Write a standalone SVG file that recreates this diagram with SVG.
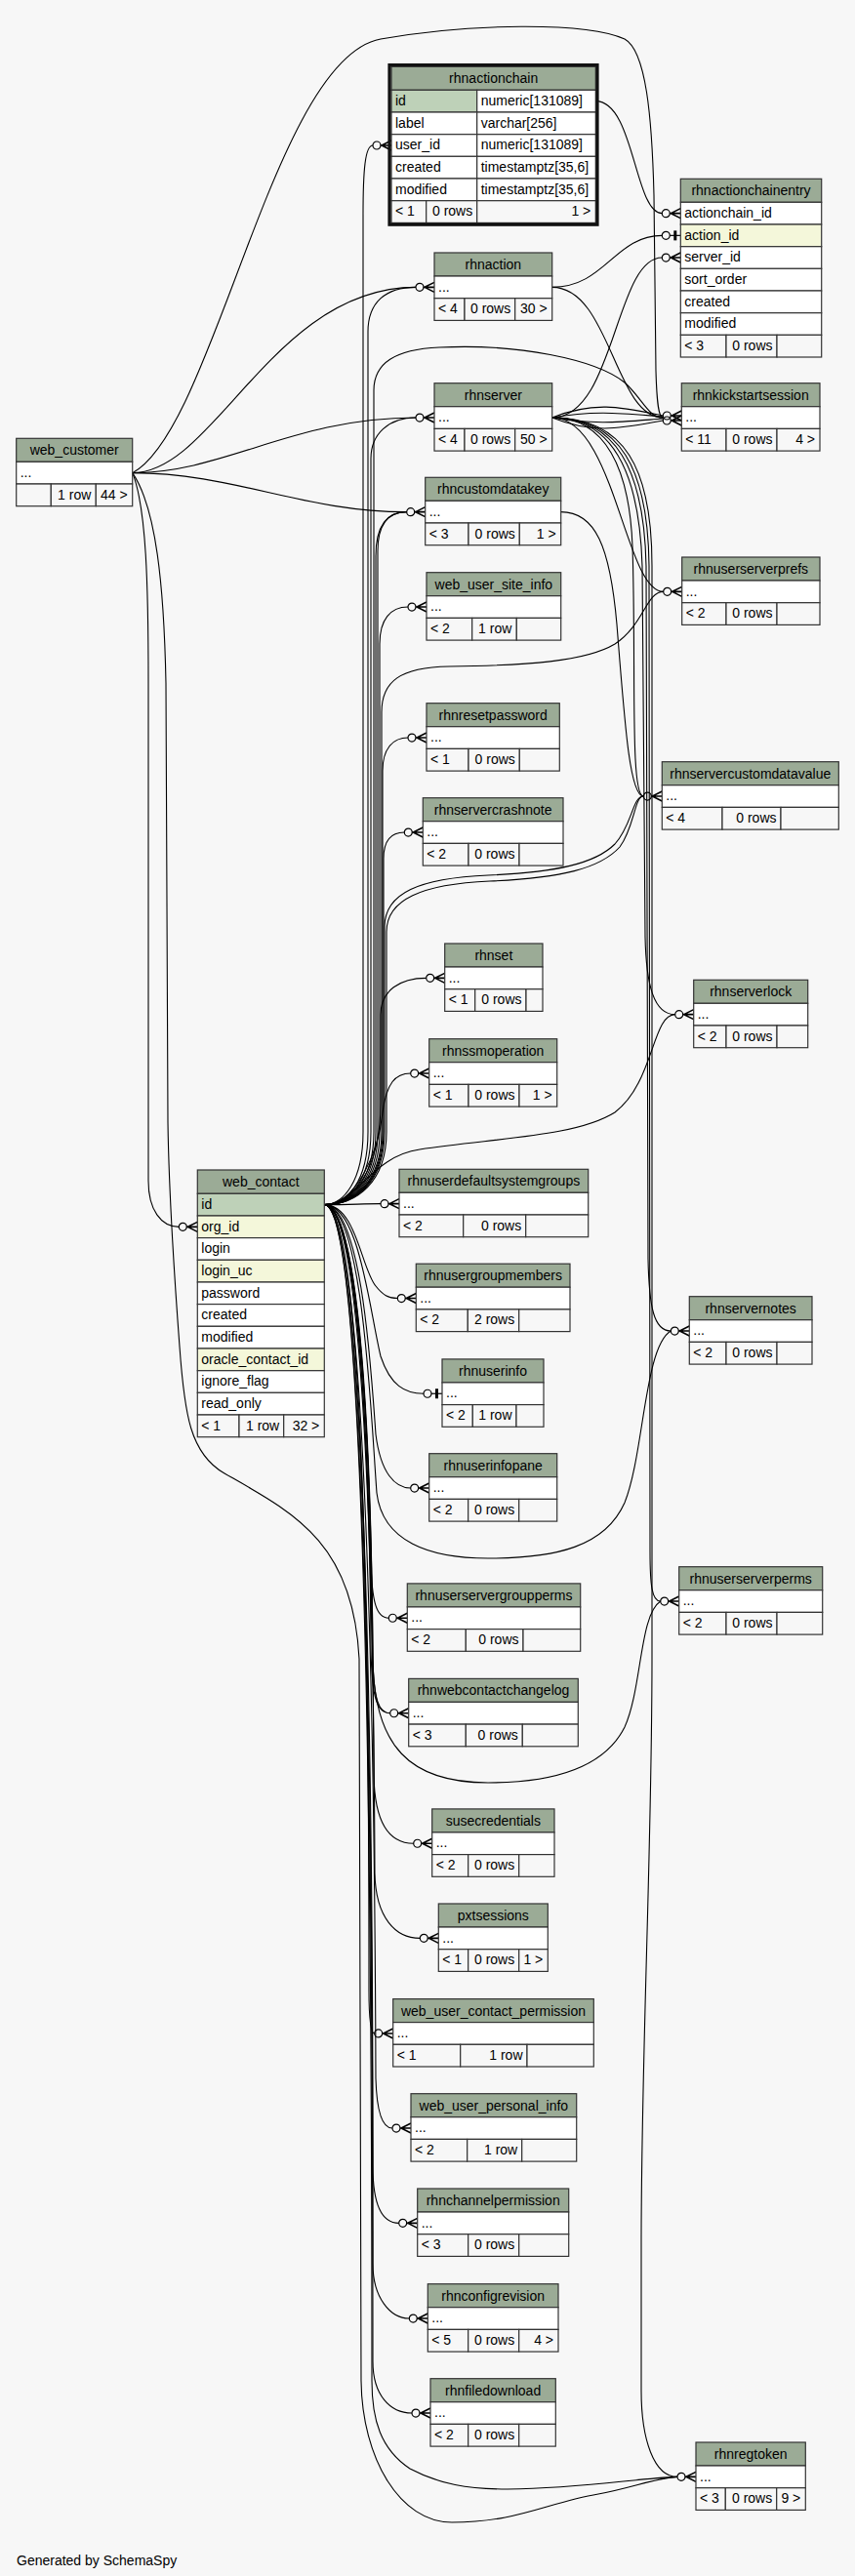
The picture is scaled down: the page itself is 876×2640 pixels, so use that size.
<svg xmlns="http://www.w3.org/2000/svg" xmlns:xlink="http://www.w3.org/1999/xlink" width="876" height="2640" viewBox="0 0 876 2640">
<style>
.h{fill:#9bab96;stroke:#333;stroke-width:1.2}
.b{fill:#fff;stroke:#333;stroke-width:1.2}
.f{fill:#f7f7f7;stroke:#333;stroke-width:1.2}
.p{fill:#bed1b8;stroke:#333;stroke-width:1.2}
.i{fill:#f4f7da;stroke:#333;stroke-width:1.2}
text{font-family:"Liberation Sans",Arial,Helvetica,sans-serif;font-size:14px;fill:#000}
.c{text-anchor:middle}
.r{text-anchor:end}
.e{fill:none;stroke:#000;stroke-width:1.1}
</style>
<defs>
<g id="cw"><path d="M-11,0H0M0,-5L-10,0L0,5" fill="none" stroke="#000" stroke-width="1.6"/><circle cx="-15" cy="0" r="4" fill="none" stroke="#000" stroke-width="1.2"/></g>
<g id="te"><path d="M-11,0H0" fill="none" stroke="#000" stroke-width="1.2"/><rect x="-7" y="-5" width="3" height="10" fill="#000"/><circle cx="-15" cy="0" r="4" fill="none" stroke="#000" stroke-width="1.2"/></g>
</defs>
<rect x="0" y="0" width="876" height="2640" fill="#f7f7f7"/>

<g id="connectors">
<!-- web_contact -> children -->
<path class="e" d="M332.3,1234.65 C352,1234.65 372,1210 372,1160 L372,220 C372,175 374,149 382,149"/>
<path class="e" d="M332.3,1234.65 C355,1234.65 377,1212 377,1160 L377,340 C377,310 395,294.35 426,294.35"/>
<path class="e" d="M332.3,1234.65 C357,1234.65 383,1212 383,1160 L383,400 C383,372 405,358 450,356 C530,352 610,368 640,392 C658,408 664,428 679.3,428.05"/>
<path class="e" d="M332.3,1234.65 C356,1234.65 380,1212 380,1160 L380,470 C380,445 398,428.05 426,428.05"/>
<path class="e" d="M332.3,1234.65 C358,1234.65 385,1212 385,1160 L385,570 C385,540 395,524.65 416.7,524.65"/>
<path class="e" d="M332.3,1234.65 C359,1234.65 387,1212 387,1160 L387,565 C387,538 397,524.65 416.7,524.65"/>
<path class="e" d="M332.3,1234.65 C360,1234.65 389,1212 389,1160 L389,660 C389,635 400,622.05 418,622.05"/>
<path class="e" d="M332.3,1234.65 C361,1234.65 391,1212 391,1160 L391,730 C391,698 410,684 460,683 C540,682 600,678 630,660 C660,640 662,606.35 679.7,606.35"/>
<path class="e" d="M332.3,1234.65 C362,1234.65 392,1212 392,1160 L392,790 C392,768 402,756.05 418,756.05"/>
<path class="e" d="M332.3,1234.65 C363,1234.65 393,1212 393,1160 L393,880 C393,862 400,853.05 414.3,853.05"/>
<path class="e" d="M332.3,1234.65 C364,1234.65 394,1212 394,1160 L394,950 C394,915 430,900 500,897 C570,894 610,885 630,865 C648,845 648,816.05 659.3,816.05"/>
<path class="e" d="M332.3,1234.65 C365,1234.65 396,1212 396,1160 L396,955 C396,922 432,906 502,903 C575,900 615,890 635,868 C650,848 650,816.05 659.3,816.05"/>
<path class="e" d="M332.3,1234.65 C360,1234.65 390,1200 390,1130 L390,1040 C390,1015 410,1002.35 436.7,1002.35"/>
<path class="e" d="M332.3,1234.65 C365,1234.65 388,1180 392,1140 C396,1110 405,1100.05 420.7,1100.05"/>
<path class="e" d="M332.3,1234.65 C365,1234.65 380,1185 430,1178 C510,1166 590,1165 630,1140 C670,1110 668,1039.65 691.7,1039.65"/>
<path class="e" d="M332.3,1234.65 C360,1234.65 370,1233.65 390,1233.65"/>
<path class="e" d="M332.3,1234.65 C365,1234.65 370,1300 385,1318 C392,1327 398,1330.55 407.3,1330.55"/>
<path class="e" d="M332.3,1234.65 C368,1234.65 378,1340 390,1390 C400,1420 415,1428.25 434,1428.25"/>
<path class="e" d="M332.3,1234.65 C370,1234.65 380,1400 385,1470 C390,1510 405,1525.05 420.7,1525.05"/>
<path class="e" d="M332.3,1234.65 C372,1234.65 380,1450 386,1530 C392,1580 440,1597 500,1597 C570,1597 620,1585 640,1540 C660,1490 660,1380 687.3,1364.05"/>
<path class="e" d="M332.3,1234.65 C370,1234.65 378,1500 380,1600 C381,1640 385,1658.25 398.3,1658.25"/>
<path class="e" d="M332.3,1234.65 C372,1234.65 379,1550 380,1690 C381,1740 386,1755.75 399.7,1755.75"/>
<path class="e" d="M332.3,1234.65 C373,1234.65 381,1560 382,1700 C383,1742 388,1755.75 399.7,1755.75"/>
<path class="e" d="M332.3,1234.65 C374,1234.65 381,1550 382,1700 C383,1790 420,1827 500,1827 C570,1827 620,1810 640,1770 C658,1730 655,1655 676.7,1641.05"/>
<path class="e" d="M332.3,1234.65 C374,1234.65 382,1600 383,1820 C384,1870 400,1889.25 423.7,1889.25"/>
<path class="e" d="M332.3,1234.65 C375,1234.65 383,1650 384,1920 C385,1965 405,1986.35 430.3,1986.35"/>
<path class="e" d="M332.3,1234.65 C374,1234.65 378,1700 378,2040 C378,2070 380,2083.95 383.7,2083.95"/>
<path class="e" d="M332.3,1234.65 C376,1234.65 384,1800 385,2130 C386,2165 392,2181.05 402,2181.05"/>
<path class="e" d="M332.3,1234.65 C376,1234.65 382,1850 382,2220 C382,2260 392,2278.35 408.7,2278.35"/>
<path class="e" d="M332.3,1234.65 C377,1234.65 382,1900 382,2320 C382,2355 400,2376.05 419.3,2376.05"/>
<path class="e" d="M332.3,1234.65 C377,1234.65 382,1950 382,2420 C382,2455 400,2473.05 422,2473.05"/>
<path class="e" d="M332.3,1234.65 C378,1234.65 381,2000 381,2440 C381,2480 390,2510 420,2530 C450,2546 480,2551 520,2551 C600,2550 650,2540 694,2538.35"/>
<!-- web_customer -> children -->
<path class="e" d="M135.7,484.65 C220,484.65 280,294.35 426,294.35"/>
<path class="e" d="M135.7,484.65 C230,484.65 300,428.05 426,428.05"/>
<path class="e" d="M135.7,484.65 C240,484.65 310,524.65 416.7,524.65"/>
<path class="e" d="M135.7,484.65 C220,440 280,60 390,40 C480,24 600,22 640,40 C662,52 668,120 670,200 L672,380 C673,415 675,428.05 679.3,428.05"/>
<path class="e" d="M135.7,484.65 C150,520 152,600 152,700 L152,1210 C152,1240 165,1257.35 183.3,1257.35"/>
<path class="e" d="M135.7,484.65 C160,520 168,600 170,700 L172,1150 C173,1220 178,1300 184,1380 C189,1450 195,1490 230,1510 C300,1550 362,1580 368,1700 L370,2440 C371,2520 410,2585 463,2585 C530,2585 560,2565 613,2556 C650,2549 670,2540 694,2538.35"/>
<!-- rhnactionchain / rhnaction / rhnserver / rhncustomdatakey -> children -->
<path class="e" d="M610.3,103.65 C650,103.65 650,218.65 678.3,218.65"/>
<path class="e" d="M565.7,294.35 C620,294.35 630,241.35 678.3,241.35"/>
<path class="e" d="M565.7,294.35 C625,294.35 630,428.05 679.3,428.05"/>
<path class="e" d="M565.7,428.05 C630,428.05 630,264.05 678.3,264.05"/>
<path class="e" d="M565.7,428.05 C610,410 640,418 679.3,426"/>
<path class="e" d="M565.7,428.05 C610,420 640,424 679.3,427"/>
<path class="e" d="M565.7,428.05 C610,436 640,432 679.3,429"/>
<path class="e" d="M565.7,428.05 C610,446 640,438 679.3,431"/>
<path class="e" d="M565.7,428.05 C630,428.05 640,606.35 679.7,606.35"/>
<path class="e" d="M565.7,428.05 C620,428.05 645,480 648,560 C652,680 645,816.05 659.3,816.05"/>
<path class="e" d="M565.7,428.05 C625,428.05 655,480 658,580 L661,960 C662,1010 670,1039.65 691.7,1039.65"/>
<path class="e" d="M565.7,428.05 C630,428.05 660,480 662,580 L664,1290 C665,1340 670,1364.05 687.3,1364.05"/>
<path class="e" d="M565.7,428.05 C635,428.05 664,480 665,580 L666,1590 C666,1625 668,1641.05 676.7,1641.05"/>
<path class="e" d="M565.7,428.05 C640,428.05 668,480 668,580 L668,1700 C668,1900 657,2100 657,2300 L657,2450 C657,2500 670,2538.35 694,2538.35"/>
<path class="e" d="M574.7,524.65 C610,524.65 625,560 632,640 C640,740 645,816.05 659.3,816.05"/>
<!-- end markers -->
<use xlink:href="#cw" href="#cw" transform="translate(401,149)"/>
<use xlink:href="#cw" href="#cw" transform="translate(697.3,218.65)"/>
<use xlink:href="#te" href="#te" transform="translate(697.3,241.35)"/>
<use xlink:href="#cw" href="#cw" transform="translate(697.3,264.05)"/>
<use xlink:href="#cw" href="#cw" transform="translate(698.3,426)"/>
<use xlink:href="#cw" href="#cw" transform="translate(698.3,431)"/>
<use xlink:href="#cw" href="#cw" transform="translate(445,294.35)"/>
<use xlink:href="#cw" href="#cw" transform="translate(445,428.05)"/>
<use xlink:href="#cw" href="#cw" transform="translate(435.7,524.65)"/>
<use xlink:href="#cw" href="#cw" transform="translate(437,622.05)"/>
<use xlink:href="#cw" href="#cw" transform="translate(437,756.05)"/>
<use xlink:href="#cw" href="#cw" transform="translate(433.3,853.05)"/>
<use xlink:href="#cw" href="#cw" transform="translate(455.7,1002.35)"/>
<use xlink:href="#cw" href="#cw" transform="translate(439.7,1100.05)"/>
<use xlink:href="#cw" href="#cw" transform="translate(409,1233.65)"/>
<use xlink:href="#cw" href="#cw" transform="translate(426.3,1330.55)"/>
<use xlink:href="#te" href="#te" transform="translate(453,1428.25)"/>
<use xlink:href="#cw" href="#cw" transform="translate(439.7,1525.05)"/>
<use xlink:href="#cw" href="#cw" transform="translate(417.3,1658.25)"/>
<use xlink:href="#cw" href="#cw" transform="translate(418.7,1755.75)"/>
<use xlink:href="#cw" href="#cw" transform="translate(442.7,1889.25)"/>
<use xlink:href="#cw" href="#cw" transform="translate(449.3,1986.35)"/>
<use xlink:href="#cw" href="#cw" transform="translate(402.7,2083.95)"/>
<use xlink:href="#cw" href="#cw" transform="translate(421,2181.05)"/>
<use xlink:href="#cw" href="#cw" transform="translate(427.7,2278.35)"/>
<use xlink:href="#cw" href="#cw" transform="translate(438.3,2376.05)"/>
<use xlink:href="#cw" href="#cw" transform="translate(441,2473.05)"/>
<use xlink:href="#cw" href="#cw" transform="translate(713,2538.35)"/>
<use xlink:href="#cw" href="#cw" transform="translate(698.7,606.35)"/>
<use xlink:href="#cw" href="#cw" transform="translate(678.3,816.05)"/>
<use xlink:href="#cw" href="#cw" transform="translate(710.7,1039.65)"/>
<use xlink:href="#cw" href="#cw" transform="translate(706.3,1364.05)"/>
<use xlink:href="#cw" href="#cw" transform="translate(695.7,1641.05)"/>
<use xlink:href="#cw" href="#cw" transform="translate(202.3,1257.35)"/>
</g>

<g id="rhnactionchain">
<rect x="401" y="68.3" width="209.3" height="24" class="h"/>
<text x="505.65" y="85.3" class="c">rhnactionchain</text>
<rect x="401" y="92.3" width="87.7" height="22.7" class="p"/><rect x="488.7" y="92.3" width="121.6" height="22.7" class="b"/>
<rect x="401" y="115" width="87.7" height="22.7" class="b"/><rect x="488.7" y="115" width="121.6" height="22.7" class="b"/>
<rect x="401" y="137.7" width="87.7" height="22.7" class="b"/><rect x="488.7" y="137.7" width="121.6" height="22.7" class="b"/>
<rect x="401" y="160.3" width="87.7" height="22.7" class="b"/><rect x="488.7" y="160.3" width="121.6" height="22.7" class="b"/>
<rect x="401" y="183" width="87.7" height="22.7" class="b"/><rect x="488.7" y="183" width="121.6" height="22.7" class="b"/>
<rect x="401" y="205.7" width="35.7" height="22.7" class="f"/><rect x="436.7" y="205.7" width="52" height="22.7" class="f"/><rect x="488.7" y="205.7" width="121.6" height="22.7" class="f"/>
<text x="405" y="107.8">id</text><text x="492.7" y="107.8">numeric[131089]</text>
<text x="405" y="130.5">label</text><text x="492.7" y="130.5">varchar[256]</text>
<text x="405" y="153.2">user_id</text><text x="492.7" y="153.2">numeric[131089]</text>
<text x="405" y="175.8">created</text><text x="492.7" y="175.8">timestamptz[35,6]</text>
<text x="405" y="198.5">modified</text><text x="492.7" y="198.5">timestamptz[35,6]</text>
<text x="405" y="221.2">&lt; 1</text><text x="484.2" y="221.2" class="r">0 rows</text><text x="605.3" y="221.2" class="r">1 &gt;</text>
<rect x="399" y="66.6" width="213" height="163.6" fill="none" stroke="#111" stroke-width="3.2"/>
</g>

<g id="rhnactionchainentry">
<rect x="697.3" y="183.3" width="144.4" height="24" class="h"/>
<text x="769.5" y="200.3" class="c">rhnactionchainentry</text>
<rect x="697.3" y="207.3" width="144.4" height="22.7" class="b"/>
<rect x="697.3" y="230" width="144.4" height="22.7" class="i"/>
<rect x="697.3" y="252.7" width="144.4" height="22.7" class="b"/>
<rect x="697.3" y="275.3" width="144.4" height="22.7" class="b"/>
<rect x="697.3" y="298" width="144.4" height="22.7" class="b"/>
<rect x="697.3" y="320.7" width="144.4" height="22.7" class="b"/>
<rect x="697.3" y="343.3" width="46.7" height="22.7" class="f"/><rect x="744" y="343.3" width="52" height="22.7" class="f"/><rect x="796" y="343.3" width="45.7" height="22.7" class="f"/>
<text x="701.3" y="222.8">actionchain_id</text>
<text x="701.3" y="245.5">action_id</text>
<text x="701.3" y="268.2">server_id</text>
<text x="701.3" y="290.8">sort_order</text>
<text x="701.3" y="313.5">created</text>
<text x="701.3" y="336.2">modified</text>
<text x="701.3" y="358.8">&lt; 3</text><text x="791.5" y="358.8" class="r">0 rows</text>
</g>

<g id="web_contact">
<rect x="202.3" y="1199" width="130" height="24.3" class="h"/>
<text x="267.3" y="1216.2" class="c">web_contact</text>
<rect x="202.3" y="1223.3" width="130" height="22.7" class="p"/>
<rect x="202.3" y="1246" width="130" height="22.7" class="i"/>
<rect x="202.3" y="1268.6" width="130" height="22.7" class="b"/>
<rect x="202.3" y="1291.3" width="130" height="22.7" class="i"/>
<rect x="202.3" y="1314" width="130" height="22.7" class="b"/>
<rect x="202.3" y="1336.6" width="130" height="22.7" class="b"/>
<rect x="202.3" y="1359.3" width="130" height="22.7" class="b"/>
<rect x="202.3" y="1382" width="130" height="22.7" class="i"/>
<rect x="202.3" y="1404.7" width="130" height="22.7" class="b"/>
<rect x="202.3" y="1427.3" width="130" height="22.7" class="b"/>
<rect x="202.3" y="1450" width="42.7" height="22.7" class="f"/><rect x="245" y="1450" width="45.7" height="22.7" class="f"/><rect x="290.7" y="1450" width="41.6" height="22.7" class="f"/>
<text x="206.3" y="1238.8">id</text>
<text x="206.3" y="1261.5">org_id</text>
<text x="206.3" y="1284.1">login</text>
<text x="206.3" y="1306.8">login_uc</text>
<text x="206.3" y="1329.5">password</text>
<text x="206.3" y="1352.1">created</text>
<text x="206.3" y="1374.8">modified</text>
<text x="206.3" y="1397.5">oracle_contact_id</text>
<text x="206.3" y="1420.2">ignore_flag</text>
<text x="206.3" y="1442.8">read_only</text>
<text x="206.3" y="1465.5">&lt; 1</text><text x="286.2" y="1465.5" class="r">1 row</text><text x="327.3" y="1465.5" class="r">32 &gt;</text>
</g>

<g id="web_customer">
<rect x="16.7" y="449.3" width="119" height="24" class="h"/><text x="76.2" y="466.3" class="c">web_customer</text>
<rect x="16.7" y="473.3" width="119" height="22.7" class="b"/><text x="20.7" y="488.8">...</text>
<rect x="16.7" y="496" width="35.6" height="22.7" class="f"/><rect x="52.3" y="496" width="46" height="22.7" class="f"/><rect x="98.3" y="496" width="37.4" height="22.7" class="f"/>
<text x="93.3" y="511.5" class="r">1 row</text><text x="130.7" y="511.5" class="r">44 &gt;</text>
</g>

<g id="rhnaction">
<rect x="445" y="259" width="120.7" height="24" class="h"/><text x="505.35" y="276" class="c">rhnaction</text>
<rect x="445" y="283" width="120.7" height="22.7" class="b"/><text x="449" y="298.5">...</text>
<rect x="445" y="305.7" width="31" height="22.7" class="f"/><rect x="476" y="305.7" width="51.7" height="22.7" class="f"/><rect x="527.7" y="305.7" width="38" height="22.7" class="f"/>
<text x="449" y="321.2">&lt; 4</text><text x="523.2" y="321.2" class="r">0 rows</text><text x="560.7" y="321.2" class="r">30 &gt;</text>
</g>

<g id="rhnserver">
<rect x="445" y="392.7" width="120.7" height="24" class="h"/><text x="505.35" y="409.7" class="c">rhnserver</text>
<rect x="445" y="416.7" width="120.7" height="22.7" class="b"/><text x="449" y="432.2">...</text>
<rect x="445" y="439.4" width="31" height="22.7" class="f"/><rect x="476" y="439.4" width="51.7" height="22.7" class="f"/><rect x="527.7" y="439.4" width="38" height="22.7" class="f"/>
<text x="449" y="454.9">&lt; 4</text><text x="523.2" y="454.9" class="r">0 rows</text><text x="560.7" y="454.9" class="r">50 &gt;</text>
</g>

<g id="rhnkickstartsession">
<rect x="698.3" y="392.7" width="141.7" height="24" class="h"/><text x="769.15" y="409.7" class="c">rhnkickstartsession</text>
<rect x="698.3" y="416.7" width="141.7" height="22.7" class="b"/><text x="702.3" y="432.2">...</text>
<rect x="698.3" y="439.4" width="45.7" height="22.7" class="f"/><rect x="744" y="439.4" width="52" height="22.7" class="f"/><rect x="796" y="439.4" width="44" height="22.7" class="f"/>
<text x="702.3" y="454.9">&lt; 11</text><text x="791.5" y="454.9" class="r">0 rows</text><text x="835" y="454.9" class="r">4 &gt;</text>
</g>

<g id="rhncustomdatakey">
<rect x="435.7" y="489.3" width="139" height="24" class="h"/><text x="505.2" y="506.3" class="c">rhncustomdatakey</text>
<rect x="435.7" y="513.3" width="139" height="22.7" class="b"/><text x="439.7" y="528.8">...</text>
<rect x="435.7" y="536" width="44.3" height="22.7" class="f"/><rect x="480" y="536" width="52.3" height="22.7" class="f"/><rect x="532.3" y="536" width="42.4" height="22.7" class="f"/>
<text x="439.7" y="551.5">&lt; 3</text><text x="527.8" y="551.5" class="r">0 rows</text><text x="569.7" y="551.5" class="r">1 &gt;</text>
</g>

<g id="web_user_site_info">
<rect x="437" y="586.7" width="137.7" height="24" class="h"/><text x="505.85" y="603.7" class="c">web_user_site_info</text>
<rect x="437" y="610.7" width="137.7" height="22.7" class="b"/><text x="441" y="626.2">...</text>
<rect x="437" y="633.4" width="46.7" height="22.7" class="f"/><rect x="483.7" y="633.4" width="45.6" height="22.7" class="f"/><rect x="529.3" y="633.4" width="45.4" height="22.7" class="f"/>
<text x="441" y="648.9">&lt; 2</text><text x="524.3" y="648.9" class="r">1 row</text>
</g>

<g id="rhnresetpassword">
<rect x="437" y="720.7" width="136.3" height="24" class="h"/><text x="505.15" y="737.7" class="c">rhnresetpassword</text>
<rect x="437" y="744.7" width="136.3" height="22.7" class="b"/><text x="441" y="760.2">...</text>
<rect x="437" y="767.4" width="43" height="22.7" class="f"/><rect x="480" y="767.4" width="52.3" height="22.7" class="f"/><rect x="532.3" y="767.4" width="41" height="22.7" class="f"/>
<text x="441" y="782.9">&lt; 1</text><text x="527.8" y="782.9" class="r">0 rows</text>
</g>

<g id="rhnservercrashnote">
<rect x="433.3" y="817.7" width="143.7" height="24" class="h"/><text x="505.15" y="834.7" class="c">rhnservercrashnote</text>
<rect x="433.3" y="841.7" width="143.7" height="22.7" class="b"/><text x="437.3" y="857.2">...</text>
<rect x="433.3" y="864.4" width="46.7" height="22.7" class="f"/><rect x="480" y="864.4" width="52" height="22.7" class="f"/><rect x="532" y="864.4" width="45" height="22.7" class="f"/>
<text x="437.3" y="879.9">&lt; 2</text><text x="527.5" y="879.9" class="r">0 rows</text>
</g>

<g id="rhnset">
<rect x="455.7" y="967" width="100.3" height="24" class="h"/><text x="505.85" y="984" class="c">rhnset</text>
<rect x="455.7" y="991" width="100.3" height="22.7" class="b"/><text x="459.7" y="1006.5">...</text>
<rect x="455.7" y="1013.7" width="31" height="22.7" class="f"/><rect x="486.7" y="1013.7" width="52.3" height="22.7" class="f"/><rect x="539" y="1013.7" width="17" height="22.7" class="f"/>
<text x="459.7" y="1029.2">&lt; 1</text><text x="534.5" y="1029.2" class="r">0 rows</text>
</g>

<g id="rhnssmoperation">
<rect x="439.7" y="1064.7" width="131" height="24" class="h"/><text x="505.2" y="1081.7" class="c">rhnssmoperation</text>
<rect x="439.7" y="1088.7" width="131" height="22.7" class="b"/><text x="443.7" y="1104.2">...</text>
<rect x="439.7" y="1111.4" width="40.3" height="22.7" class="f"/><rect x="480" y="1111.4" width="52" height="22.7" class="f"/><rect x="532" y="1111.4" width="38.7" height="22.7" class="f"/>
<text x="443.7" y="1126.9">&lt; 1</text><text x="527.5" y="1126.9" class="r">0 rows</text><text x="565.7" y="1126.9" class="r">1 &gt;</text>
</g>

<g id="rhnuserdefaultsystemgroups">
<rect x="409" y="1198.3" width="193.7" height="24" class="h"/><text x="505.85" y="1215.3" class="c">rhnuserdefaultsystemgroups</text>
<rect x="409" y="1222.3" width="193.7" height="22.7" class="b"/><text x="413" y="1237.8">...</text>
<rect x="409" y="1245" width="65.7" height="22.7" class="f"/><rect x="474.7" y="1245" width="64" height="22.7" class="f"/><rect x="538.7" y="1245" width="64" height="22.7" class="f"/>
<text x="413" y="1260.5">&lt; 2</text><text x="534.2" y="1260.5" class="r">0 rows</text>
</g>

<g id="rhnusergroupmembers">
<rect x="426.3" y="1295.2" width="157.7" height="24" class="h"/><text x="505.15" y="1312.2" class="c">rhnusergroupmembers</text>
<rect x="426.3" y="1319.2" width="157.7" height="22.7" class="b"/><text x="430.3" y="1334.7">...</text>
<rect x="426.3" y="1341.9" width="53" height="22.7" class="f"/><rect x="479.3" y="1341.9" width="52.4" height="22.7" class="f"/><rect x="531.7" y="1341.9" width="52.3" height="22.7" class="f"/>
<text x="430.3" y="1357.4">&lt; 2</text><text x="527.2" y="1357.4" class="r">2 rows</text>
</g>

<g id="rhnuserinfo">
<rect x="453" y="1392.9" width="104" height="24" class="h"/><text x="505" y="1409.9" class="c">rhnuserinfo</text>
<rect x="453" y="1416.9" width="104" height="22.7" class="b"/><text x="457" y="1432.4">...</text>
<rect x="453" y="1439.6" width="31.3" height="22.7" class="f"/><rect x="484.3" y="1439.6" width="44.7" height="22.7" class="f"/><rect x="529" y="1439.6" width="28" height="22.7" class="f"/>
<text x="457" y="1455.1">&lt; 2</text><text x="524.5" y="1455.1" class="r">1 row</text>
</g>

<g id="rhnuserinfopane">
<rect x="439.7" y="1489.7" width="131" height="24" class="h"/><text x="505.2" y="1506.7" class="c">rhnuserinfopane</text>
<rect x="439.7" y="1513.7" width="131" height="22.7" class="b"/><text x="443.7" y="1529.2">...</text>
<rect x="439.7" y="1536.4" width="40" height="22.7" class="f"/><rect x="479.7" y="1536.4" width="52" height="22.7" class="f"/><rect x="531.7" y="1536.4" width="39" height="22.7" class="f"/>
<text x="443.7" y="1551.9">&lt; 2</text><text x="527.2" y="1551.9" class="r">0 rows</text>
</g>

<g id="rhnuserservergroupperms">
<rect x="417.3" y="1622.9" width="177.4" height="24" class="h"/><text x="506" y="1639.9" class="c">rhnuserservergroupperms</text>
<rect x="417.3" y="1646.9" width="177.4" height="22.7" class="b"/><text x="421.3" y="1662.4">...</text>
<rect x="417.3" y="1669.6" width="60" height="22.7" class="f"/><rect x="477.3" y="1669.6" width="58.7" height="22.7" class="f"/><rect x="536" y="1669.6" width="58.7" height="22.7" class="f"/>
<text x="421.3" y="1685.1">&lt; 2</text><text x="531.5" y="1685.1" class="r">0 rows</text>
</g>

<g id="rhnwebcontactchangelog">
<rect x="418.7" y="1720.4" width="173.6" height="24" class="h"/><text x="505.5" y="1737.4" class="c">rhnwebcontactchangelog</text>
<rect x="418.7" y="1744.4" width="173.6" height="22.7" class="b"/><text x="422.7" y="1759.9">...</text>
<rect x="418.7" y="1767.1" width="58.6" height="22.7" class="f"/><rect x="477.3" y="1767.1" width="58" height="22.7" class="f"/><rect x="535.3" y="1767.1" width="57" height="22.7" class="f"/>
<text x="422.7" y="1782.6">&lt; 3</text><text x="530.8" y="1782.6" class="r">0 rows</text>
</g>

<g id="susecredentials">
<rect x="442.7" y="1853.9" width="125.3" height="24" class="h"/><text x="505.35" y="1870.9" class="c">susecredentials</text>
<rect x="442.7" y="1877.9" width="125.3" height="22.7" class="b"/><text x="446.7" y="1893.4">...</text>
<rect x="442.7" y="1900.6" width="37" height="22.7" class="f"/><rect x="479.7" y="1900.6" width="52" height="22.7" class="f"/><rect x="531.7" y="1900.6" width="36.3" height="22.7" class="f"/>
<text x="446.7" y="1916.1">&lt; 2</text><text x="527.2" y="1916.1" class="r">0 rows</text>
</g>

<g id="pxtsessions">
<rect x="449.3" y="1951" width="112" height="24" class="h"/><text x="505.3" y="1968" class="c">pxtsessions</text>
<rect x="449.3" y="1975" width="112" height="22.7" class="b"/><text x="453.3" y="1990.5">...</text>
<rect x="449.3" y="1997.7" width="30.4" height="22.7" class="f"/><rect x="479.7" y="1997.7" width="52" height="22.7" class="f"/><rect x="531.7" y="1997.7" width="29.6" height="22.7" class="f"/>
<text x="453.3" y="2013.2">&lt; 1</text><text x="527.2" y="2013.2" class="r">0 rows</text><text x="556.3" y="2013.2" class="r">1 &gt;</text>
</g>

<g id="web_user_contact_permission">
<rect x="402.7" y="2048.6" width="205.6" height="24" class="h"/><text x="505.5" y="2065.6" class="c">web_user_contact_permission</text>
<rect x="402.7" y="2072.6" width="205.6" height="22.7" class="b"/><text x="406.7" y="2088.1">...</text>
<rect x="402.7" y="2095.3" width="69" height="22.7" class="f"/><rect x="471.7" y="2095.3" width="68.3" height="22.7" class="f"/><rect x="540" y="2095.3" width="68.3" height="22.7" class="f"/>
<text x="406.7" y="2110.8">&lt; 1</text><text x="535.5" y="2110.8" class="r">1 row</text>
</g>

<g id="web_user_personal_info">
<rect x="421" y="2145.7" width="169.7" height="24" class="h"/><text x="505.85" y="2162.7" class="c">web_user_personal_info</text>
<rect x="421" y="2169.7" width="169.7" height="22.7" class="b"/><text x="425" y="2185.2">...</text>
<rect x="421" y="2192.4" width="57.7" height="22.7" class="f"/><rect x="478.7" y="2192.4" width="56" height="22.7" class="f"/><rect x="534.7" y="2192.4" width="56" height="22.7" class="f"/>
<text x="425" y="2207.9">&lt; 2</text><text x="530.2" y="2207.9" class="r">1 row</text>
</g>

<g id="rhnchannelpermission">
<rect x="427.7" y="2243" width="155" height="24" class="h"/><text x="505.2" y="2260" class="c">rhnchannelpermission</text>
<rect x="427.7" y="2267" width="155" height="22.7" class="b"/><text x="431.7" y="2282.5">...</text>
<rect x="427.7" y="2289.7" width="52" height="22.7" class="f"/><rect x="479.7" y="2289.7" width="52" height="22.7" class="f"/><rect x="531.7" y="2289.7" width="51" height="22.7" class="f"/>
<text x="431.7" y="2305.2">&lt; 3</text><text x="527.2" y="2305.2" class="r">0 rows</text>
</g>

<g id="rhnconfigrevision">
<rect x="438.3" y="2340.7" width="133.7" height="24" class="h"/><text x="505.15" y="2357.7" class="c">rhnconfigrevision</text>
<rect x="438.3" y="2364.7" width="133.7" height="22.7" class="b"/><text x="442.3" y="2380.2">...</text>
<rect x="438.3" y="2387.4" width="41.4" height="22.7" class="f"/><rect x="479.7" y="2387.4" width="52" height="22.7" class="f"/><rect x="531.7" y="2387.4" width="40.3" height="22.7" class="f"/>
<text x="442.3" y="2402.9">&lt; 5</text><text x="527.2" y="2402.9" class="r">0 rows</text><text x="567" y="2402.9" class="r">4 &gt;</text>
</g>

<g id="rhnfiledownload">
<rect x="441" y="2437.7" width="128.3" height="24" class="h"/><text x="505.15" y="2454.7" class="c">rhnfiledownload</text>
<rect x="441" y="2461.7" width="128.3" height="22.7" class="b"/><text x="445" y="2477.2">...</text>
<rect x="441" y="2484.4" width="38.7" height="22.7" class="f"/><rect x="479.7" y="2484.4" width="52" height="22.7" class="f"/><rect x="531.7" y="2484.4" width="37.6" height="22.7" class="f"/>
<text x="445" y="2499.9">&lt; 2</text><text x="527.2" y="2499.9" class="r">0 rows</text>
</g>

<g id="rhnregtoken">
<rect x="713" y="2503" width="112.3" height="24" class="h"/><text x="769.15" y="2520" class="c">rhnregtoken</text>
<rect x="713" y="2527" width="112.3" height="22.7" class="b"/><text x="717" y="2542.5">...</text>
<rect x="713" y="2549.7" width="30.3" height="22.7" class="f"/><rect x="743.3" y="2549.7" width="52.4" height="22.7" class="f"/><rect x="795.7" y="2549.7" width="29.6" height="22.7" class="f"/>
<text x="717" y="2565.2">&lt; 3</text><text x="791.2" y="2565.2" class="r">0 rows</text><text x="820.3" y="2565.2" class="r">9 &gt;</text>
</g>

<g id="rhnuserserverprefs">
<rect x="698.7" y="571" width="141.3" height="24" class="h"/><text x="769.35" y="588" class="c">rhnuserserverprefs</text>
<rect x="698.7" y="595" width="141.3" height="22.7" class="b"/><text x="702.7" y="610.5">...</text>
<rect x="698.7" y="617.7" width="45.3" height="22.7" class="f"/><rect x="744" y="617.7" width="52" height="22.7" class="f"/><rect x="796" y="617.7" width="44" height="22.7" class="f"/>
<text x="702.7" y="633.2">&lt; 2</text><text x="791.5" y="633.2" class="r">0 rows</text>
</g>

<g id="rhnservercustomdatavalue">
<rect x="678.3" y="780.7" width="181" height="24" class="h"/><text x="768.8" y="797.7" class="c">rhnservercustomdatavalue</text>
<rect x="678.3" y="804.7" width="181" height="22.7" class="b"/><text x="682.3" y="820.2">...</text>
<rect x="678.3" y="827.4" width="61.7" height="22.7" class="f"/><rect x="740" y="827.4" width="60" height="22.7" class="f"/><rect x="800" y="827.4" width="59.3" height="22.7" class="f"/>
<text x="682.3" y="842.9">&lt; 4</text><text x="795.5" y="842.9" class="r">0 rows</text>
</g>

<g id="rhnserverlock">
<rect x="710.7" y="1004.3" width="117" height="24" class="h"/><text x="769.2" y="1021.3" class="c">rhnserverlock</text>
<rect x="710.7" y="1028.3" width="117" height="22.7" class="b"/><text x="714.7" y="1043.8">...</text>
<rect x="710.7" y="1051" width="33.3" height="22.7" class="f"/><rect x="744" y="1051" width="52" height="22.7" class="f"/><rect x="796" y="1051" width="31.7" height="22.7" class="f"/>
<text x="714.7" y="1066.5">&lt; 2</text><text x="791.5" y="1066.5" class="r">0 rows</text>
</g>

<g id="rhnservernotes">
<rect x="706.3" y="1328.7" width="125.7" height="24" class="h"/><text x="769.15" y="1345.7" class="c">rhnservernotes</text>
<rect x="706.3" y="1352.7" width="125.7" height="22.7" class="b"/><text x="710.3" y="1368.2">...</text>
<rect x="706.3" y="1375.4" width="37.7" height="22.7" class="f"/><rect x="744" y="1375.4" width="52" height="22.7" class="f"/><rect x="796" y="1375.4" width="36" height="22.7" class="f"/>
<text x="710.3" y="1390.9">&lt; 2</text><text x="791.5" y="1390.9" class="r">0 rows</text>
</g>

<g id="rhnuserserverperms">
<rect x="695.7" y="1605.7" width="147" height="24" class="h"/><text x="769.2" y="1622.7" class="c">rhnuserserverperms</text>
<rect x="695.7" y="1629.7" width="147" height="22.7" class="b"/><text x="699.7" y="1645.2">...</text>
<rect x="695.7" y="1652.4" width="48.3" height="22.7" class="f"/><rect x="744" y="1652.4" width="52" height="22.7" class="f"/><rect x="796" y="1652.4" width="46.7" height="22.7" class="f"/>
<text x="699.7" y="1667.9">&lt; 2</text><text x="791.5" y="1667.9" class="r">0 rows</text>
</g>

<text x="17" y="2629">Generated by SchemaSpy</text>
</svg>
